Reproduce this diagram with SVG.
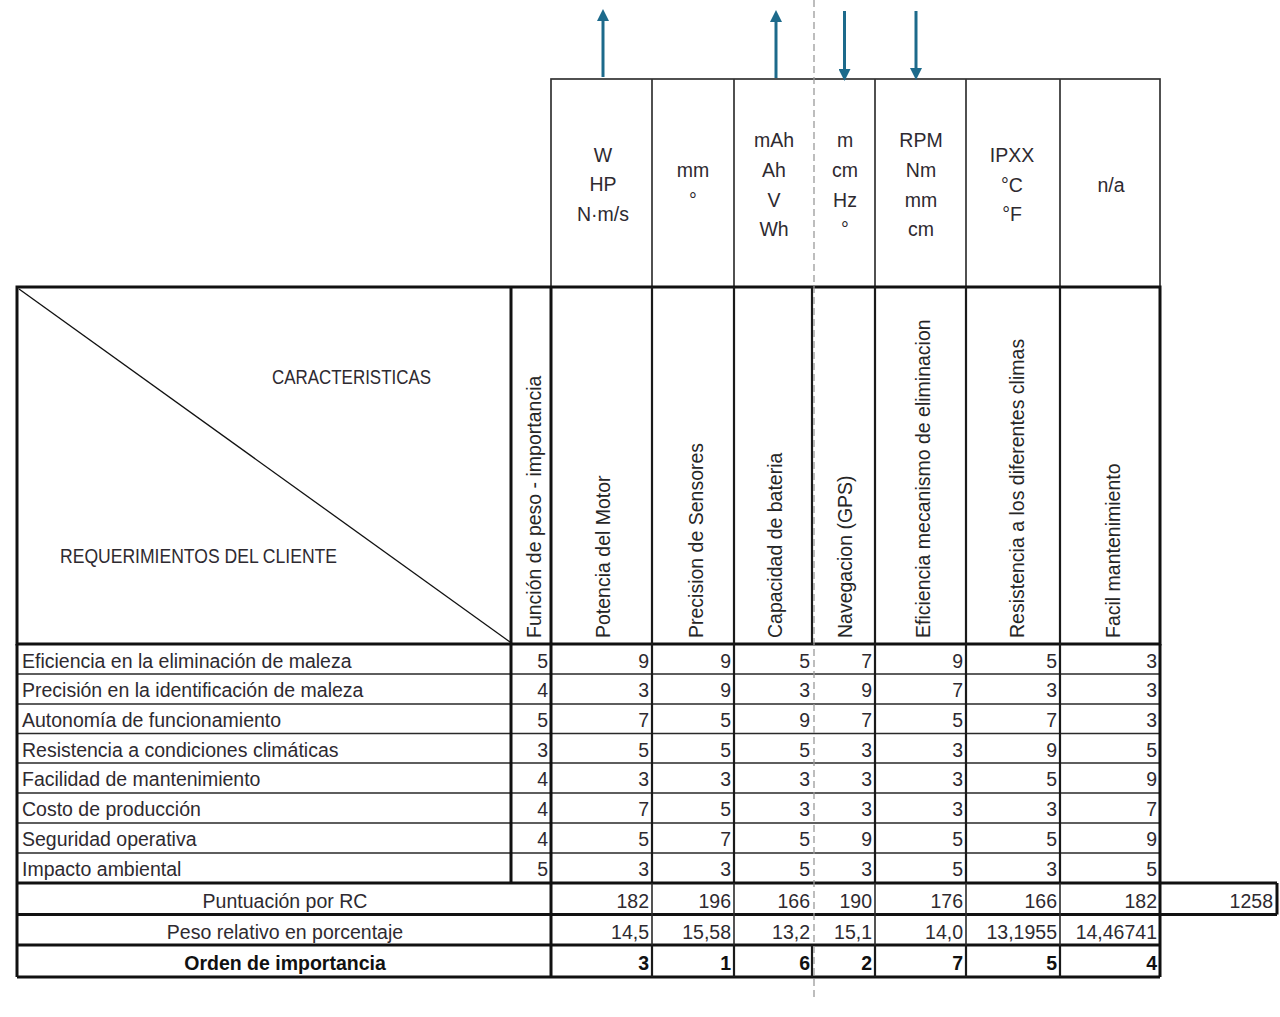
<svg xmlns="http://www.w3.org/2000/svg" width="1280" height="1017" viewBox="0 0 1280 1017">
<defs>
<marker id="ah" viewBox="0 0 12 12" refX="1" refY="6" markerWidth="12" markerHeight="12" markerUnits="userSpaceOnUse" orient="auto">
<path d="M0,0 L12,6 L0,12 z" fill="#1d6a8b"/>
</marker>
<style>
text{font-family:"Liberation Sans",Arial,sans-serif;font-size:19.5px;fill:#2e2a30}
.n{text-anchor:end}
.c{text-anchor:middle}
.b{font-weight:bold;fill:#111}
.rot{fill:#262626}
.thick{stroke:#111;stroke-width:3;fill:none}
.med{stroke:#1a1a1a;stroke-width:2.2;fill:none}
.thin{stroke:#2a2a2a;stroke-width:1.6;fill:none}
.ubox{stroke:#333;stroke-width:1.7;fill:none}
.dash{stroke:#9a9a9a;stroke-width:1.3;stroke-dasharray:7 4;fill:none}
.arr{stroke:#1d6a8b;stroke-width:3;fill:none}
</style>
</defs>
<rect width="1280" height="1017" fill="#ffffff"/>

<g id="units">
<rect x="551" y="79" width="609" height="208" class="ubox"/>
<path class="ubox" d="M652,79V287M734,79V287M875,79V287M966,79V287M1060,79V287"/>
<text class="c" x="603" y="161.5">W</text>
<text class="c" x="603" y="191">HP</text>
<text class="c" x="603" y="221">N·m/s</text>
<text class="c" x="693" y="177">mm</text>
<text class="c" x="693" y="207">°</text>
<text class="c" x="774" y="147">mAh</text>
<text class="c" x="774" y="177">Ah</text>
<text class="c" x="774" y="207">V</text>
<text class="c" x="774" y="236">Wh</text>
<text class="c" x="845" y="147">m</text>
<text class="c" x="845" y="177">cm</text>
<text class="c" x="845" y="207">Hz</text>
<text class="c" x="845" y="236">°</text>
<text class="c" x="921" y="147">RPM</text>
<text class="c" x="921" y="177">Nm</text>
<text class="c" x="921" y="207">mm</text>
<text class="c" x="921" y="236">cm</text>
<text class="c" x="1012" y="161.5">IPXX</text>
<text class="c" x="1012" y="191.5">°C</text>
<text class="c" x="1012" y="221">°F</text>
<text class="c" x="1111" y="191.5">n/a</text>
</g>

<g id="header">
<rect x="17" y="287" width="1143" height="357" class="thick"/>
<path class="thick" d="M511,287V644M551,287V644"/>
<path class="med" d="M652,287V644M734,287V644M812,287V644M875,287V644M966,287V644M1060,287V644"/>
<line x1="19" y1="289" x2="510" y2="642" stroke="#111" stroke-width="1.3"/>
<text x="272" y="384" textLength="159" lengthAdjust="spacingAndGlyphs">CARACTERISTICAS</text>
<text x="60" y="562.5" textLength="277" lengthAdjust="spacingAndGlyphs">REQUERIMIENTOS DEL CLIENTE</text>
<text class="rot" transform="translate(541,638) rotate(-90)">Función de peso - importancia</text>
<text class="rot" transform="translate(610,638) rotate(-90)">Potencia del Motor</text>
<text class="rot" transform="translate(703,638) rotate(-90)">Precision de Sensores</text>
<text class="rot" transform="translate(782,638) rotate(-90)">Capacidad de bateria</text>
<text class="rot" transform="translate(852,638) rotate(-90)">Navegacion (GPS)</text>
<text class="rot" transform="translate(930,638) rotate(-90)">Eficiencia mecanismo de eliminacion</text>
<text class="rot" transform="translate(1024,638) rotate(-90)">Resistencia a los diferentes climas</text>
<text class="rot" transform="translate(1120,638) rotate(-90)">Facil mantenimiento</text>
</g>

<g id="grid">
<path class="thin" d="M17,674H1160M17,704H1160M17,733.5H1160M17,763H1160M17,793H1160M17,823H1160M17,853H1160"/>
<path class="med" d="M652,644V883M734,644V883M875,644V883M966,644V883M1060,644V883"/>
<path class="thick" d="M17,644V977M511,644V883M551,644V977M1160,644V977"/>
<path class="thick" d="M17,883H1277M17,914.5H1277M1277,883V914.5M17,945H1160M17,977H1160"/>
<path class="thin" d="M652,883V945M734,883V945M875,883V945M966,883V945M1060,883V945"/>
<path class="med" d="M652,945V977M734,945V977M812,945V977M875,945V977M966,945V977M1060,945V977"/>
</g>

<g id="row1">
<text x="22" y="667.5">Eficiencia en la eliminación de maleza</text>
<text class="n" x="548" y="667.5">5</text><text class="n" x="649" y="667.5">9</text><text class="n" x="731" y="667.5">9</text><text class="n" x="810" y="667.5">5</text><text class="n" x="872" y="667.5">7</text><text class="n" x="963" y="667.5">9</text><text class="n" x="1057" y="667.5">5</text><text class="n" x="1157" y="667.5">3</text>
</g>
<g id="row2">
<text x="22" y="697">Precisión en la identificación de maleza</text>
<text class="n" x="548" y="697">4</text><text class="n" x="649" y="697">3</text><text class="n" x="731" y="697">9</text><text class="n" x="810" y="697">3</text><text class="n" x="872" y="697">9</text><text class="n" x="963" y="697">7</text><text class="n" x="1057" y="697">3</text><text class="n" x="1157" y="697">3</text>
</g>
<g id="row3">
<text x="22" y="727">Autonomía de funcionamiento</text>
<text class="n" x="548" y="727">5</text><text class="n" x="649" y="727">7</text><text class="n" x="731" y="727">5</text><text class="n" x="810" y="727">9</text><text class="n" x="872" y="727">7</text><text class="n" x="963" y="727">5</text><text class="n" x="1057" y="727">7</text><text class="n" x="1157" y="727">3</text>
</g>
<g id="row4">
<text x="22" y="756.5">Resistencia a condiciones climáticas</text>
<text class="n" x="548" y="756.5">3</text><text class="n" x="649" y="756.5">5</text><text class="n" x="731" y="756.5">5</text><text class="n" x="810" y="756.5">5</text><text class="n" x="872" y="756.5">3</text><text class="n" x="963" y="756.5">3</text><text class="n" x="1057" y="756.5">9</text><text class="n" x="1157" y="756.5">5</text>
</g>
<g id="row5">
<text x="22" y="786">Facilidad de mantenimiento</text>
<text class="n" x="548" y="786">4</text><text class="n" x="649" y="786">3</text><text class="n" x="731" y="786">3</text><text class="n" x="810" y="786">3</text><text class="n" x="872" y="786">3</text><text class="n" x="963" y="786">3</text><text class="n" x="1057" y="786">5</text><text class="n" x="1157" y="786">9</text>
</g>
<g id="row6">
<text x="22" y="816">Costo de producción</text>
<text class="n" x="548" y="816">4</text><text class="n" x="649" y="816">7</text><text class="n" x="731" y="816">5</text><text class="n" x="810" y="816">3</text><text class="n" x="872" y="816">3</text><text class="n" x="963" y="816">3</text><text class="n" x="1057" y="816">3</text><text class="n" x="1157" y="816">7</text>
</g>
<g id="row7">
<text x="22" y="846">Seguridad operativa</text>
<text class="n" x="548" y="846">4</text><text class="n" x="649" y="846">5</text><text class="n" x="731" y="846">7</text><text class="n" x="810" y="846">5</text><text class="n" x="872" y="846">9</text><text class="n" x="963" y="846">5</text><text class="n" x="1057" y="846">5</text><text class="n" x="1157" y="846">9</text>
</g>
<g id="row8">
<text x="22" y="876">Impacto ambiental</text>
<text class="n" x="548" y="876">5</text><text class="n" x="649" y="876">3</text><text class="n" x="731" y="876">3</text><text class="n" x="810" y="876">5</text><text class="n" x="872" y="876">3</text><text class="n" x="963" y="876">5</text><text class="n" x="1057" y="876">3</text><text class="n" x="1157" y="876">5</text>
</g>
<g id="puntuacion">
<text class="c" x="285" y="907.5">Puntuación por RC</text>
<text class="n" x="649" y="907.5">182</text><text class="n" x="731" y="907.5">196</text><text class="n" x="810" y="907.5">166</text><text class="n" x="872" y="907.5">190</text><text class="n" x="963" y="907.5">176</text><text class="n" x="1057" y="907.5">166</text><text class="n" x="1157" y="907.5">182</text><text class="n" x="1273" y="907.5">1258</text>
</g>
<g id="peso">
<text class="c" x="285" y="939">Peso relativo en porcentaje</text>
<text class="n" x="649" y="939">14,5</text><text class="n" x="731" y="939">15,58</text><text class="n" x="810" y="939">13,2</text><text class="n" x="872" y="939">15,1</text><text class="n" x="963" y="939">14,0</text><text class="n" x="1057" y="939">13,1955</text><text class="n" x="1157" y="939">14,46741</text>
</g>
<g id="orden">
<text class="c b" x="285" y="970">Orden de importancia</text>
<text class="n b" x="649" y="970">3</text><text class="n b" x="731" y="970">1</text><text class="n b" x="810" y="970">6</text><text class="n b" x="872" y="970">2</text><text class="n b" x="963" y="970">7</text><text class="n b" x="1057" y="970">5</text><text class="n b" x="1157" y="970">4</text>
</g>

<line x1="814" y1="0" x2="814" y2="1000" class="dash"/>

<g id="connectors">
<line class="arr" x1="603" y1="77" x2="603" y2="20" marker-end="url(#ah)"/>
<line class="arr" x1="776" y1="78" x2="776" y2="21" marker-end="url(#ah)"/>
<line class="arr" x1="844.5" y1="11" x2="844.5" y2="70" marker-end="url(#ah)"/>
<line class="arr" x1="916" y1="11" x2="916" y2="69" marker-end="url(#ah)"/>
</g>
</svg>
